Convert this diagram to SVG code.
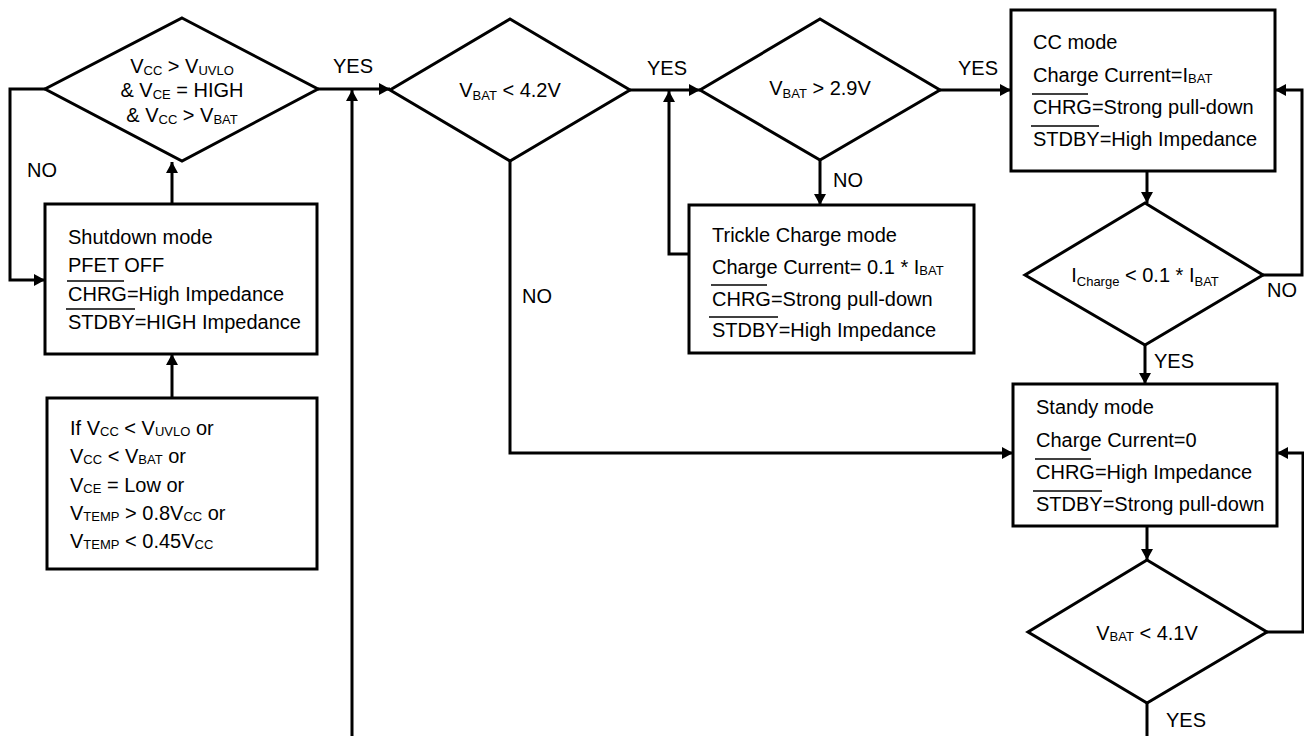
<svg xmlns="http://www.w3.org/2000/svg" width="1304" height="736" viewBox="0 0 1304 736">
<style>
  text { font-family: "Liberation Sans", Arial, Helvetica, sans-serif; font-size: 20px; fill: #000; }
  .c { text-anchor: middle; }
  .s { font-size: 13px; }
  .shape { fill: #fff; stroke: #000; stroke-width: 3; }
  .ln { fill: none; stroke: #000; stroke-width: 3; }
  .ol { stroke: #000; stroke-width: 1.5; }
</style>
<defs>
  <marker id="ah" viewBox="0 0 11 12" refX="11" refY="6" markerWidth="11" markerHeight="12" markerUnits="userSpaceOnUse" orient="auto">
    <path d="M0,0 L11,6 L0,12 z" fill="#000"/>
  </marker>
</defs>
<rect width="1304" height="736" fill="#fff"/>

<g id="connectors">
  <polyline class="ln" points="45,89 10,89 10,280 45,280" marker-end="url(#ah)"/>
  <polyline class="ln" points="172,204 172,162" marker-end="url(#ah)"/>
  <polyline class="ln" points="172,398 172,354" marker-end="url(#ah)"/>
  <polyline class="ln" points="318,89 390,89" marker-end="url(#ah)"/>
  <polyline class="ln" points="352,736 352,90" marker-end="url(#ah)"/>
  <polyline class="ln" points="510,161 510,453 1013,453" marker-end="url(#ah)"/>
  <polyline class="ln" points="630,90 700,90" marker-end="url(#ah)"/>
  <polyline class="ln" points="689,254 669,254 669,91" marker-end="url(#ah)"/>
  <polyline class="ln" points="820,160 820,205" marker-end="url(#ah)"/>
  <polyline class="ln" points="940,90 1011,90" marker-end="url(#ah)"/>
  <polyline class="ln" points="1147,171 1147,203" marker-end="url(#ah)"/>
  <polyline class="ln" points="1263,275 1302,275 1302,90 1275,90" marker-end="url(#ah)"/>
  <polyline class="ln" points="1145,345 1145,384" marker-end="url(#ah)"/>
  <polyline class="ln" points="1147,526 1147,560" marker-end="url(#ah)"/>
  <polyline class="ln" points="1267,632 1303,632 1303,453 1277,453" marker-end="url(#ah)"/>
  <polyline class="ln" points="1147,703 1147,736"/>
  <text x="27" y="177">NO</text>
  <text x="333" y="73">YES</text>
  <text x="647" y="75">YES</text>
  <text x="958" y="75">YES</text>
  <text x="833" y="187">NO</text>
  <text x="522" y="303">NO</text>
  <text x="1267" y="297">NO</text>
  <text x="1154" y="368">YES</text>
  <text x="1166" y="727">YES</text>
</g>

<g id="d-start">
  <polygon class="shape" points="182,18 318,89 182,161 45,89"/>
  <text class="c" x="182" y="73">V<tspan class="s" dy="2">CC</tspan><tspan dy="-2"> &gt; V</tspan><tspan class="s" dy="2">UVLO</tspan></text>
  <text class="c" x="182" y="97">&amp; V<tspan class="s" dy="2">CE</tspan><tspan dy="-2"> = HIGH</tspan></text>
  <text class="c" x="182" y="122">&amp; V<tspan class="s" dy="2">CC</tspan><tspan dy="-2"> &gt; V</tspan><tspan class="s" dy="2">BAT</tspan></text>
</g>

<g id="shutdown">
  <rect class="shape" x="45" y="204" width="272" height="150"/>
  <text x="68" y="244">Shutdown mode</text>
  <text x="68" y="272">PFET OFF</text>
  <text x="68" y="301">CHRG=High Impedance</text>
  <text x="68" y="329">STDBY=HIGH Impedance</text>
  <line class="ol" x1="67" y1="281" x2="124" y2="281"/>
  <line class="ol" x1="66" y1="309" x2="135" y2="309"/>
</g>

<g id="conditions">
  <rect class="shape" x="47" y="398" width="270" height="171"/>
  <text x="70" y="435">If V<tspan class="s" dy="1">CC</tspan><tspan dy="-1"> &lt; V</tspan><tspan class="s" dy="1">UVLO</tspan><tspan dy="-1"> or</tspan></text>
  <text x="70" y="463">V<tspan class="s" dy="1">CC</tspan><tspan dy="-1"> &lt; V</tspan><tspan class="s" dy="1">BAT</tspan><tspan dy="-1"> or</tspan></text>
  <text x="70" y="492">V<tspan class="s" dy="1">CE</tspan><tspan dy="-1"> = Low or</tspan></text>
  <text x="70" y="520">V<tspan class="s" dy="1">TEMP</tspan><tspan dy="-1"> &gt; 0.8V</tspan><tspan class="s" dy="1">CC</tspan><tspan dy="-1"> or</tspan></text>
  <text x="70" y="548">V<tspan class="s" dy="1">TEMP</tspan><tspan dy="-1"> &lt; 0.45V</tspan><tspan class="s" dy="1">CC</tspan></text>
</g>

<g id="d-vbat42">
  <polygon class="shape" points="510,19 630,90 510,161 390,90"/>
  <text class="c" x="510" y="97">V<tspan class="s" dy="3">BAT</tspan><tspan dy="-3"> &lt; 4.2V</tspan></text>
</g>

<g id="d-vbat29">
  <polygon class="shape" points="820,19 940,90 820,160 700,90"/>
  <text class="c" x="820" y="95">V<tspan class="s" dy="3">BAT</tspan><tspan dy="-3"> &gt; 2.9V</tspan></text>
</g>

<g id="trickle">
  <rect class="shape" x="689" y="205" width="285" height="148"/>
  <text x="712" y="242">Trickle Charge mode</text>
  <text x="712" y="274">Charge Current= 0.1 * I<tspan class="s" dy="1">BAT</tspan></text>
  <text x="712" y="306">CHRG=Strong pull-down</text>
  <text x="712" y="337">STDBY=High Impedance</text>
  <line class="ol" x1="711" y1="285" x2="767" y2="285"/>
  <line class="ol" x1="709" y1="317" x2="778" y2="317"/>
</g>

<g id="cc-mode">
  <rect class="shape" x="1011" y="10" width="264" height="161"/>
  <text x="1033" y="49">CC mode</text>
  <text x="1033" y="82">Charge Current=I<tspan class="s" dy="1">BAT</tspan></text>
  <text x="1033" y="114">CHRG=Strong pull-down</text>
  <text x="1033" y="146">STDBY=High Impedance</text>
  <line class="ol" x1="1032" y1="94" x2="1088" y2="94"/>
  <line class="ol" x1="1031" y1="126" x2="1099" y2="126"/>
</g>

<g id="d-icharge">
  <polygon class="shape" points="1145,203 1263,275 1145,345 1025,275"/>
  <text class="c" x="1145" y="282">I<tspan class="s" dy="4">Charge</tspan><tspan dy="-4"> &lt; 0.1 * I</tspan><tspan class="s" dy="4">BAT</tspan></text>
</g>

<g id="standby">
  <rect class="shape" x="1013" y="384" width="264" height="142"/>
  <text x="1036" y="414">Standy mode</text>
  <text x="1036" y="447">Charge Current=0</text>
  <text x="1036" y="479">CHRG=High Impedance</text>
  <text x="1036" y="511">STDBY=Strong pull-down</text>
  <line class="ol" x1="1035" y1="459" x2="1091" y2="459"/>
  <line class="ol" x1="1033" y1="491" x2="1102" y2="491"/>
</g>

<g id="d-vbat41">
  <polygon class="shape" points="1147,560 1267,632 1147,703 1028,632"/>
  <text class="c" x="1147" y="640">V<tspan class="s" dy="1">BAT</tspan><tspan dy="-1"> &lt; 4.1V</tspan></text>
</g>
</svg>
